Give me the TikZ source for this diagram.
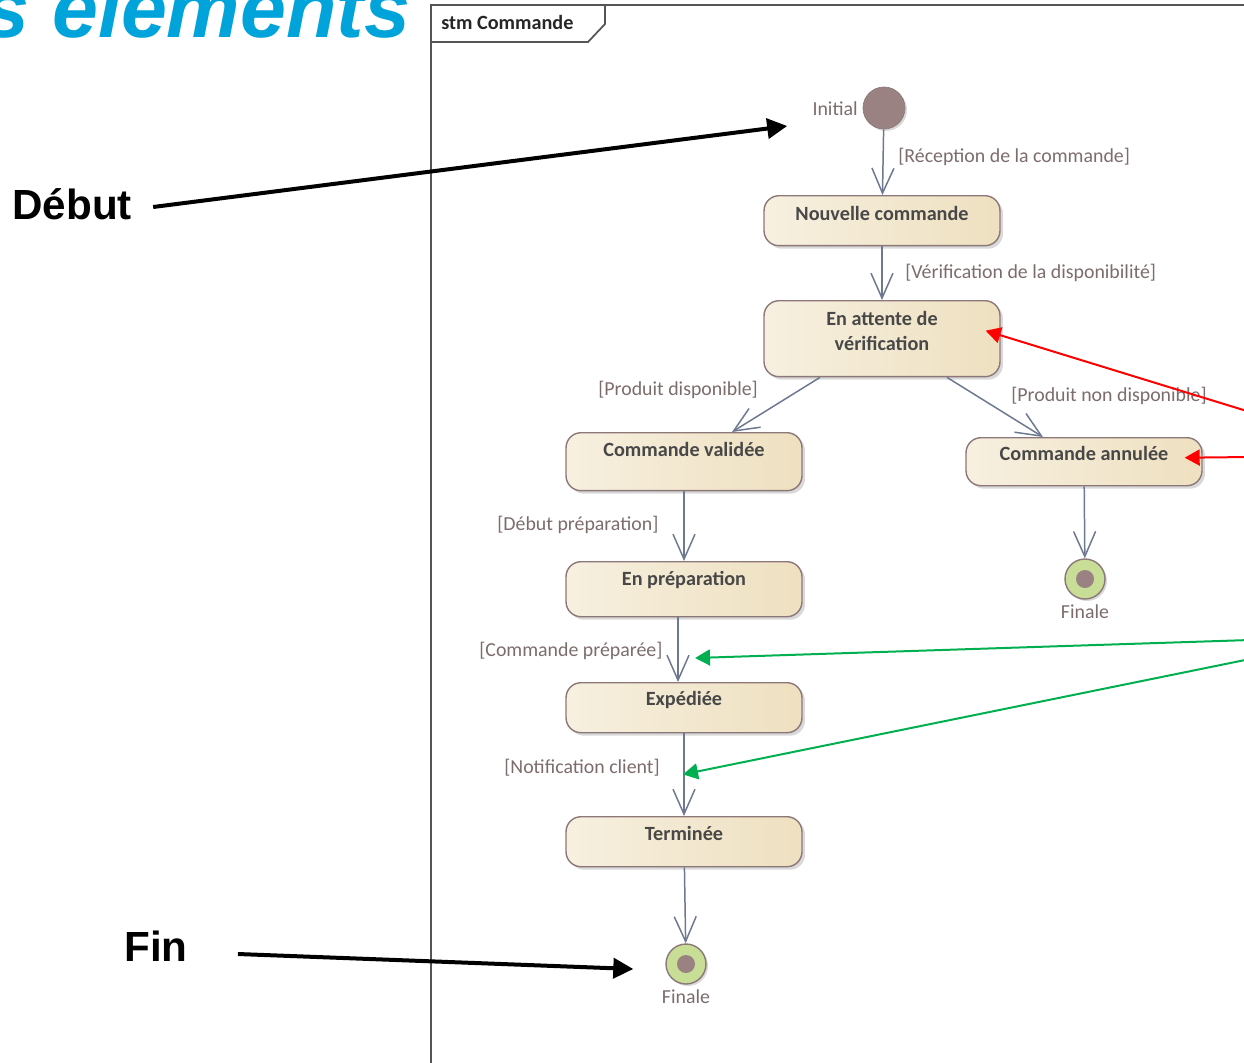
\documentclass[tikz,border=0pt]{standalone}
\usepackage{fontspec}
\setmainfont{Carlito}
\newfontfamily\arialfont{Liberation Sans}
\usepackage{tikz}
\usetikzlibrary{arrows.meta,shadows,calc}
\definecolor{stleft}{RGB}{247,240,224}
\definecolor{stright}{RGB}{238,224,192}
\definecolor{stline}{RGB}{140,120,120}
\definecolor{sttext}{RGB}{72,72,72}
\definecolor{guardcol}{RGB}{125,108,108}
\definecolor{transcol}{RGB}{110,120,145}
\definecolor{initfill}{RGB}{155,130,130}
\definecolor{finfill}{RGB}{200,222,150}
\definecolor{titlecol}{RGB}{0,163,218}
\definecolor{framecol}{RGB}{85,85,85}
\definecolor{notegreen}{RGB}{0,176,80}

\begin{document}
\begin{tikzpicture}[x=0.02cm,y=-0.02cm]
\tikzset{statebox/.style = {draw=stline, line width=0.8pt, rounded corners=0.3cm,
		left color=stleft, right color=stright, minimum width=4.72cm,
		inner sep=0pt, anchor=north, text=sttext,
		font=\fontsize{11.5}{14.2}\selectfont\bfseries,
		drop shadow={shadow xshift=0.06cm, shadow yshift=-0.06cm, opacity=0.3}}}
\tikzset{sline/.style = {statebox, text height=0.26cm}}
\tikzset{guard/.style = {inner sep=0pt, text=guardcol, font=\fontsize{11.3}{13}\selectfont}}
\tikzset{trans/.style = {draw=transcol, line width=0.85pt, -{Straight Barb[length=0.5cm,width=0.44cm]}}}
\tikzset{initnode/.style = {circle, draw=stline, fill=initfill, minimum size=0.84cm, inner sep=0pt,
		drop shadow={shadow xshift=0.04cm, shadow yshift=-0.04cm, opacity=0.3}}}
\tikzset{finalnode/.style = {circle, draw=stline, line width=0.8pt, fill=finfill, minimum size=0.8cm, inner sep=0pt,
		path picture={\fill[initfill] (path picture bounding box.center) circle (0.18cm);},
		drop shadow={shadow xshift=0.04cm, shadow yshift=-0.04cm, opacity=0.3}}}
\tikzset{note/.style = {inner sep=0pt, font=\arialfont\bfseries\fontsize{24}{28}\selectfont}}
\tikzset{notearrow/.style = {line width=0.08cm, -{Triangle[length=0.4cm,width=0.4cm]}}}
\tikzset{pointer/.style = {line width=0.04cm, -{Triangle[length=0.3cm,width=0.32cm]}}}
\tikzset{frame/.style = {draw=framecol, line width=0.035cm}}

\useasboundingbox (0,0) rectangle (1244,1062);
\clip (0,0) rectangle (1244,1062);

% title and frame
\node[anchor=base west, inner sep=0pt, text=titlecol,
	font=\arialfont\bfseries\itshape\fontsize{47}{50}\selectfont] (titre) at (-17,37) {s éléments};
\draw[frame] (431,1075) -- (431,5) -- (1255,5);
\draw[frame] (431,42) -- (588,42) -- (605,24) -- (605,5);
\node[anchor=west, inner sep=0pt, font=\fontsize{11.5}{13}\selectfont\bfseries, text=black!85] (hdr) at (441,22) {stm Commande};

% states
\node[initnode] (init) at (884,108) {};
\node[guard, anchor=east] (initlbl) at (858,109) {Initial};
\node[sline, minimum height=1cm, text depth=0.26cm] (nouv) at (882,195) {Nouvelle commande};
\node[statebox, minimum height=1.52cm, align=center, text depth=0.32cm] (att) at (882,300) {En attente de\\vérification};
\node[sline, minimum height=1.16cm, text depth=0.46cm] (val) at (684,432) {Commande validée};
\node[sline, minimum height=0.96cm, text depth=0.3cm] (ann) at (1084,437) {Commande annulée};
\node[sline, minimum height=1.1cm, text depth=0.4cm] (prep) at (684,561) {En préparation};
\node[sline, minimum height=1cm, text depth=0.34cm] (exped) at (684,682) {Expédiée};
\node[sline, minimum height=1cm, text depth=0.3cm] (term) at (684,816) {Terminée};
\node[finalnode, label={[guard, label distance=0.1cm]below:Finale}] (fin1) at (1085,579) {};
\node[finalnode, label={[guard, label distance=0.1cm]below:Finale}] (fin2) at (686,964) {};

% guards
\node[guard, anchor=west] (grecep) at (898,157) {[Réception de la commande]};
\node[guard, anchor=west] (gverif) at (905,273) {[Vérification de la disponibilité]};
\node[guard, anchor=west] (gdispo) at (598,390) {[Produit disponible]};
\node[guard, anchor=west] (gnondispo) at (1011,396) {[Produit non disponible]};
\node[guard, anchor=west] (gdebut) at (497,525) {[Début préparation]};
\node[guard, anchor=west] (gprepa) at (479,651) {[Commande préparée]};
\node[guard, anchor=west] (gnotif) at (504,768) {[Notification client]};

%edges
\draw[trans] (init) -- (nouv);
\draw[trans] (nouv) -- (att);
\draw[trans] ($(att.south)+(-62,0)$) -- ($(val.north)+(48,0)$);
\draw[trans] ($(att.south)+(65,0)$) -- ($(ann.north)+(-41,0)$);
\draw[trans] (val) -- (prep);
\draw[trans] ($(prep.south)+(-6,0)$) -- ($(exped.north)+(-6,0)$);
\draw[trans] (exped) -- (term);
\draw[trans] (term) -- (fin2);
\draw[trans] (ann) -- (fin1);

% notes
\node[note, anchor=west] (debut) at (12,204) {Début};
\node[note, anchor=west] (fin) at (124,946) {Fin};
\draw[notearrow] ($(debut.east)+(21,3)$) -- ($(initlbl.west)+(-25,17)$);
\draw[notearrow] ($(fin.east)+(50,8)$) -- ($(fin2.west)+(-32,5)$);

\coordinate (redsrcA) at (1250,412);
\coordinate (redsrcB) at (1250,457);
\coordinate (greensrcA) at (1250,640);
\coordinate (greensrcB) at (1250,659);
\draw[pointer, red] (redsrcA) -- ($(att.east)+(-15,-8)$);
\draw[pointer, red] (redsrcB) -- ($(ann.east)+(-18,-4)$);
\draw[pointer, notegreen] (greensrcA) -- ($(exped.north)+(11,-24)$);
\draw[pointer, notegreen] (greensrcB) -- ($(exped.south)+(-1,41)$);
\end{tikzpicture}
\end{document}
